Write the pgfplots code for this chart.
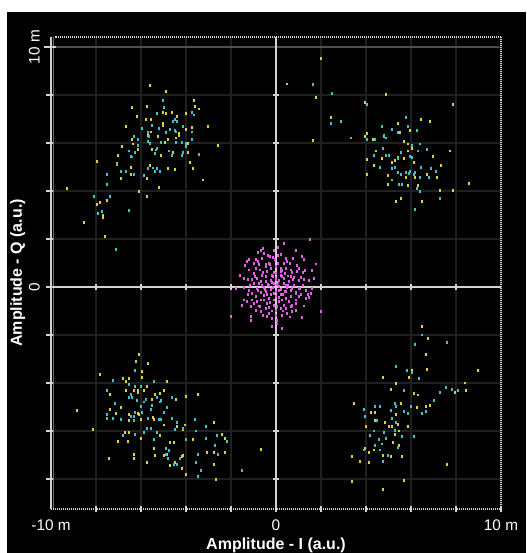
\documentclass[border=0pt]{standalone}
\usepackage{pgfplots}
\pgfplotsset{compat=1.18}
\usepackage{fontspec}
\setmainfont{Liberation Sans}
\definecolor{yel}{RGB}{215,210,60}
\definecolor{cyn}{RGB}{60,195,205}
\definecolor{mag}{RGB}{228,95,232}
\definecolor{gridc}{RGB}{32,32,32}
\definecolor{axc}{RGB}{210,210,210}
\pgfdeclareplotmark{bar}{\pgfpathrectangle{\pgfqpoint{-0.75pt}{-1.1pt}}{\pgfqpoint{1.5pt}{2.2pt}}\pgfusepathqfill}
\begin{document}
\begin{tikzpicture}
\useasboundingbox (0,0) rectangle (394.5pt,414.75pt);
\fill[white] (0,0) rectangle (394.5pt,414.75pt);
\fill[black] (5.25pt,0) rectangle (394.5pt,405.75pt);
\begin{axis}[
  at={(38.25pt,33pt)}, anchor=south west,
  scale only axis, width=337.5pt, height=354pt,
  xmin=-10, xmax=10, ymin=-9.25, ymax=10.42,
  clip=false,
  axis background/.style={fill=black},
  axis line style={draw=none},
  major tick length=0pt,
  xtick={-10,-8,...,10},
  ytick={-8,-6,...,10},
  xticklabels={-10 m,,,,,0,,,,,10 m},
  yticklabels={,,,,0,,,,,10 m},
  grid=major,
  major grid style={draw=gridc, line width=0.9pt},
  xticklabel style={anchor=north, inner sep=0pt, yshift=-8pt, text=white, font=\fontsize{11.5}{13}\selectfont},
  yticklabel style={xshift=-8.25pt, rotate=90, anchor=south, inner sep=0pt, text=white, font=\fontsize{11.5}{13}\selectfont},
  every axis x label/.style={at={(rel axis cs:0.5,0)}, anchor=north, yshift=-21.5pt, inner sep=0pt, text=white, font=\fontsize{12}{14}\selectfont\bfseries},
  every axis y label/.style={at={(rel axis cs:0,0.5)}, xshift=-30.75pt, rotate=90, anchor=north, inner sep=0pt, text=white, font=\fontsize{12}{14}\selectfont\bfseries},
  xlabel={Amplitude - I (a.u.)},
  ylabel={Amplitude - Q (a.u.)},
]
% magenta: centre cluster
\addplot[only marks, mark=bar, color=mag] coordinates {
(1.52,1.99) (0.36,1.82) (0.09,1.65) (-0.57,1.61) (-0.68,1.54) (-0.80,1.43) (-1.21,1.15) (-1.28,1.06)
(-0.91,1.13) (-0.61,1.19) (-0.27,1.26) (-0.13,1.24) (0.21,1.36) (0.43,1.19) (0.76,1.19) (0.88,1.51)
(1.15,1.26) (1.25,1.13) (1.77,0.96) (1.29,0.67) (1.03,0.78) (0.65,0.71) (0.46,0.78) (0.21,0.78)
(-0.01,0.85) (-0.28,0.92) (-0.46,0.85) (-0.76,0.92) (-0.91,0.78) (-0.98,0.57) (-1.06,0.32) (-1.24,0.32)
(-1.43,0.36) (-0.83,0.36) (-0.61,0.50) (-0.39,0.64) (-0.16,0.50) (0.01,0.36) (0.13,0.29) (0.28,0.43)
(0.55,0.46) (0.80,0.40) (1.03,0.29) (1.25,0.32) (1.47,0.29) (1.70,0.36) (-1.80,-0.06) (-1.43,-0.01)
(-1.21,-0.13) (-1.06,-0.26) (-0.83,-0.06) (-0.61,0.08) (-0.46,0.22) (-0.24,0.29) (-0.09,0.15) (0.13,0.04)
(0.36,0.15) (0.58,0.22) (0.80,0.08) (1.03,-0.06) (1.32,-0.13) (1.55,-0.26) (1.10,-0.33) (0.88,-0.24)
(0.65,-0.13) (0.40,-0.19) (0.21,-0.33) (-0.01,-0.19) (-0.24,-0.10) (-0.46,-0.19) (-0.68,-0.24) (-0.91,-0.40)
(-1.06,-0.54) (-1.28,-0.61) (-1.50,-0.75) (-1.13,-0.82) (-0.83,-0.61) (-0.54,-0.54) (-0.31,-0.47) (-0.09,-0.54)
(0.13,-0.61) (0.43,-0.47) (0.65,-0.40) (0.88,-0.54) (1.25,-0.79) (1.47,-0.43) (0.36,-0.75) (0.21,-0.89)
(-0.01,-0.96) (-0.31,-1.10) (-0.46,-0.89) (-0.68,-1.03) (-0.91,-0.96) (-0.39,-1.24) (-0.16,-1.31) (0.06,-1.38)
(0.28,-1.17) (0.51,-1.10) (0.73,-1.03) (0.88,-0.96) (1.15,-1.26) (1.99,-1.03) (-1.98,-1.24) (-1.13,-1.24)
(-1.13,-1.40) (-0.16,-1.65) (0.28,-1.72) (0.06,-1.54) (0.65,-0.82) (-0.39,-0.68) (-0.76,-0.79) (1.03,-0.40)
(0.58,-0.61) (-0.09,-0.75) (-0.98,0.15) (-0.46,0.43) (-0.71,0.71) (-0.24,0.78) (0.10,0.99) (0.61,0.99)
(0.36,0.99) (-0.01,0.57) (0.21,0.64) (0.43,0.08) (-0.13,-0.01) (-0.31,0.08) (-0.54,-0.01) (0.13,-0.13)
(0.73,-0.06) (0.51,-0.01) (-0.01,-0.40) (-0.24,-0.33) (0.28,-0.54) (-0.76,0.15) (-1.43,-0.54) (-0.68,-0.54)
(0.95,0.64) (1.18,0.08) (1.32,-0.47) (1.62,-0.06) (-0.52,1.38) (-0.37,1.33) (-0.07,1.54) (-0.79,1.06)
(-0.98,0.99) (-1.21,0.71) (0.05,0.10) (-0.20,0.20) (0.30,-0.30) (-0.10,-0.25) (0.20,0.50) (-0.40,-0.30)
(0.45,-0.90) (-0.60,0.60) (0.70,0.60) (-0.30,1.00) (0.00,-1.20) (0.90,-0.70) (-1.00,-0.70) (1.10,0.40)
(-1.40,0.90) (1.40,-0.30)
(0.10,0.20) (-0.15,0.45) (0.35,0.35) (-0.35,0.10) (0.55,0.05) (-0.55,-0.35) (0.15,-0.45) (-0.25,-0.65)
(0.45,-0.20) (0.25,0.70) (-0.65,0.25) (0.75,0.30) (-0.80,-0.15) (0.90,-0.25) (0.05,-0.80) (-0.45,0.95)
(0.50,1.05) (-0.95,0.45) (1.05,-0.05) (-0.20,-1.00) (0.30,-1.00) (-0.70,-0.80) (0.70,-0.75) (0.95,0.90)
(-1.15,0.05) (1.20,0.60) (-0.05,1.15) (0.60,-1.25) (-0.60,-1.20) (-1.25,-0.30) (0.00,0.30) (0.20,-0.10)
(-0.10,0.60) (0.40,0.55) (-0.50,-0.10) (0.65,0.45) (-0.30,-0.85) (0.10,1.30) (-1.60,0.50) (1.60,0.70)
};
% yellow: corner clusters
\addplot[only marks, mark=bar, color=yel] coordinates {
(-5.61,8.39) (-4.90,8.13) (-3.66,7.78) (-3.60,7.53) (-3.41,7.42) (-6.38,7.47) (-5.74,7.54) (-5.04,7.29)
(-4.90,7.24) (-4.64,7.29) (-3.99,7.24) (-6.19,7.11) (-5.80,6.99) (-5.55,6.99) (-4.38,7.11) (-5.03,6.82)
(-5.03,6.75) (-6.65,6.69) (-3.01,6.69) (-3.74,6.64) (-3.99,6.57) (-4.33,6.40) (-4.87,6.44) (-5.57,6.46)
(-5.67,6.33) (-4.45,6.21) (-6.38,6.14) (-6.37,5.96) (-6.13,5.74) (-5.52,5.74) (-4.82,6.13) (-4.58,5.61)
(-3.93,5.61) (-6.85,5.85) (-7.04,5.49) (-5.09,5.49) (-7.96,5.24) (-3.81,5.18) (-7.05,5.13) (-6.44,5.00)
(-5.61,5.06) (-4.78,4.94) (-4.51,4.88) (-3.68,4.93) (-6.89,4.51) (-6.44,4.69) (-5.74,4.51) (-3.23,4.46)
(-5.22,4.15) (-9.30,4.10) (-6.07,3.97) (-5.74,3.79) (-7.49,3.61) (-7.83,3.54) (-7.95,3.43) (-7.68,2.97)
(-7.68,2.89) (-8.53,2.69) (-7.62,2.10) (-2.56,5.90) (-3.91,5.99) (-4.32,6.33) (-4.93,6.03) (-5.25,6.26)
(1.98,9.53) (1.77,7.90) (4.88,8.03) (3.97,7.68) (7.87,7.60) (2.43,7.06) (6.44,6.99) (6.83,6.88)
(5.40,6.81) (5.52,6.44) (5.94,6.51) (4.05,6.39) (3.97,6.26) (4.30,6.15) (5.67,6.08) (1.65,6.10)
(4.69,6.69) (5.88,5.96) (6.06,5.78) (5.85,5.67) (4.43,5.67) (7.74,5.67) (6.96,5.43) (5.67,5.36)
(5.40,5.38) (4.69,5.36) (4.05,5.31) (5.15,5.18) (6.12,5.18) (4.36,5.06) (7.35,5.06) (4.05,4.69)
(4.96,4.64) (5.76,4.57) (6.18,4.57) (6.70,4.69) (7.16,4.57) (4.96,4.28) (5.86,4.22) (6.32,4.22)
(8.59,4.33) (7.29,4.04) (7.87,4.04) (5.33,3.56) (5.54,3.68) (6.50,3.56) (4.81,6.29) (5.27,5.29)
(0.49,8.46)
(-6.07,-2.81) (-6.21,-3.11) (-5.68,-3.17) (-7.83,-3.64) (-6.79,-3.83) (-6.65,-3.94) (-6.52,-3.83) (-4.84,-3.94)
(-5.94,-3.53) (-5.94,-3.76) (-6.13,-4.31) (-5.74,-4.13) (-6.65,-4.31) (-6.32,-4.31) (-6.13,-4.38) (-5.88,-4.31)
(-4.97,-4.31) (-5.16,-4.43) (-5.36,-4.49) (-5.49,-4.67) (-4.45,-4.67) (-3.99,-4.56) (-3.48,-4.49) (-7.37,-4.49)
(-6.90,-5.03) (-7.37,-5.10) (-7.10,-5.28) (-6.52,-5.33) (-6.13,-5.28) (-6.07,-5.33) (-6.52,-5.57) (-6.00,-5.51)
(-5.48,-5.44) (-5.42,-5.51) (-4.06,-5.75) (-4.14,-5.94) (-4.39,-5.82) (-2.77,-5.64) (-4.97,-5.75) (-8.13,-5.93)
(-6.71,-6.06) (-6.52,-6.06) (-7.04,-6.42) (-6.58,-6.42) (-6.00,-6.31) (-5.16,-6.18) (-4.70,-6.49) (-4.52,-6.49)
(-3.68,-6.36) (-2.38,-6.13) (-2.25,-6.31) (-5.42,-6.72) (-5.36,-7.03) (-6.32,-6.97) (-6.32,-7.15) (-7.43,-7.15)
(-5.74,-7.33) (-4.97,-7.03) (-4.84,-6.97) (-4.14,-7.03) (-4.20,-7.08) (-4.70,-7.44) (-4.51,-7.33) (-4.20,-7.57)
(-3.99,-7.81) (-3.05,-6.90) (-2.77,-6.90) (-2.25,-6.90) (-2.77,-7.39) (-0.68,-6.78) (-8.85,-5.15) (-2.65,-8.04)
(6.50,-1.65) (6.77,-2.14) (6.65,-2.81) (6.71,-3.42) (6.06,-3.46) (5.92,-3.76) (4.76,-3.78) (5.34,-4.01)
(5.09,-4.26) (6.12,-4.43) (6.31,-4.50) (6.83,-4.92) (6.65,-4.99) (6.25,-5.03) (5.54,-4.86) (5.34,-5.33)
(4.20,-5.22) (4.38,-5.22) (3.45,-4.86) (4.84,-5.63) (4.38,-5.58) (3.99,-5.82) (5.01,-5.82) (5.15,-5.83)
(5.40,-5.71) (5.88,-5.82) (5.48,-6.00) (4.78,-6.07) (5.31,-6.14) (5.22,-6.49) (5.48,-6.60) (3.94,-6.74)
(4.12,-6.90) (4.36,-6.79) (4.76,-7.03) (5.13,-7.08) (5.60,-7.08) (3.39,-7.08) (3.72,-7.28) (4.12,-7.33)
(7.62,-7.39) (8.97,-3.46) (8.39,-4.00) (8.45,-4.31) (7.95,-4.38) (5.67,-8.07) (3.39,-8.11) (4.76,-8.42)
};
% cyan: corner clusters
\addplot[only marks, mark=bar, color=cyn] coordinates {
(-5.03,7.78) (-4.96,7.49) (-5.28,7.25) (-3.72,7.29) (-3.66,7.17) (-4.51,7.00) (-4.38,6.88) (-4.57,6.88)
(-4.14,6.69) (-3.72,6.46) (-3.72,6.15) (-5.94,6.61) (-5.49,6.75) (-5.67,6.44) (-5.63,6.28) (-5.18,6.61)
(-4.70,6.57) (-4.90,6.44) (-4.51,6.51) (-4.45,6.46) (-6.31,6.28) (-6.13,6.14) (-6.13,5.90) (-5.67,6.08)
(-5.58,5.97) (-5.30,5.78) (-5.34,5.71) (-5.36,5.56) (-5.09,6.01) (-4.76,5.67) (-4.43,6.03) (-4.20,6.03)
(-4.02,5.97) (-3.99,5.86) (-4.15,5.61) (-4.18,5.49) (-4.64,5.49) (-3.41,5.54) (-6.52,5.67) (-6.26,5.61)
(-6.40,5.42) (-6.90,4.82) (-6.68,4.82) (-6.32,4.69) (-6.44,5.43) (-5.67,4.94) (-5.46,4.96) (-5.37,4.83)
(-5.27,4.94) (-5.15,4.82) (-5.85,4.64) (-7.53,4.69) (-7.49,4.26) (-8.08,3.79) (-7.37,3.79) (-7.92,3.07)
(-7.74,3.13) (-6.52,3.18) (-7.10,1.56) (-7.07,5.11)
(1.65,8.44) (2.49,8.08) (4.03,7.60) (2.87,6.88) (2.43,6.81) (3.33,6.21) (4.06,6.15) (4.42,6.15)
(4.78,6.33) (4.88,6.21) (4.70,6.69) (5.15,6.57) (5.40,6.44) (5.79,7.06) (5.86,6.69) (6.25,6.51)
(6.06,5.90) (6.38,5.96) (4.76,5.79) (4.36,5.49) (4.88,5.49) (5.01,5.49) (5.54,5.60) (5.40,5.36)
(5.94,5.43) (6.06,5.40) (6.31,5.67) (6.70,5.72) (5.16,4.94) (5.28,5.00) (6.44,5.00) (6.89,4.94)
(7.10,4.82) (4.63,5.00) (5.40,4.76) (5.54,4.69) (5.76,4.76) (5.94,4.82) (6.12,4.69) (6.18,4.76)
(6.38,4.58) (6.82,4.57) (5.15,4.46) (5.46,4.28) (5.61,4.28) (6.25,4.10) (6.38,3.97) (7.29,3.68)
(6.18,3.25) (5.92,4.74)
(-6.26,-3.46) (-7.23,-3.89) (-5.42,-3.94) (-6.52,-4.07) (-6.26,-4.13) (-6.00,-4.13) (-7.49,-4.31) (-5.30,-4.61)
(-5.09,-4.72) (-5.16,-4.79) (-4.64,-4.61) (-6.46,-4.49) (-6.40,-4.61) (-6.52,-4.61) (-6.19,-4.72) (-5.80,-4.67)
(-5.88,-4.79) (-7.17,-4.85) (-5.49,-4.92) (-4.84,-5.03) (-6.00,-4.97) (-5.55,-5.10) (-6.26,-5.21) (-5.94,-5.21)
(-4.97,-5.21) (-7.49,-5.33) (-7.49,-5.46) (-7.23,-5.46) (-6.90,-5.51) (-6.46,-5.39) (-6.32,-5.57) (-5.67,-5.46)
(-5.22,-5.51) (-5.10,-5.51) (-4.64,-5.46) (-4.39,-5.64) (-3.60,-5.51) (-4.12,-5.88) (-4.51,-5.94) (-5.74,-5.88)
(-5.55,-5.88) (-5.30,-6.06) (-5.88,-6.06) (-6.26,-6.13) (-6.79,-6.18) (-5.42,-6.36) (-3.99,-6.36) (-3.54,-6.00)
(-3.10,-5.82) (-3.10,-6.31) (-2.63,-6.18) (-2.19,-6.42) (-2.69,-6.60) (-2.57,-6.97) (-3.48,-6.97) (-4.90,-6.72)
(-4.76,-6.83) (-4.90,-6.97) (-4.78,-7.15) (-4.52,-7.38) (-4.39,-7.39) (-4.26,-7.15) (-3.54,-7.33) (-3.35,-7.63)
(-3.48,-7.88) (-1.53,-7.63) (-6.32,-5.39)
(6.50,-2.00) (6.19,-2.38) (7.60,-2.32) (5.34,-3.33) (5.80,-3.46) (6.06,-3.57) (6.34,-3.82) (5.67,-4.31)
(7.29,-4.38) (7.54,-4.19) (7.81,-4.26) (8.07,-4.31) (7.02,-4.74) (6.65,-5.17) (6.50,-5.28) (5.98,-4.97)
(5.86,-5.28) (5.67,-5.17) (5.34,-4.99) (5.09,-5.15) (4.63,-4.97) (4.38,-4.97) (3.93,-5.10) (3.97,-5.40)
(4.49,-5.58) (5.15,-5.46) (5.27,-4.85) (5.34,-5.64) (4.36,-6.00) (4.81,-6.06) (5.30,-5.96) (5.61,-6.24)
(6.12,-6.24) (4.18,-6.18) (4.57,-6.36) (4.69,-6.54) (4.90,-6.32) (4.40,-6.61) (3.93,-6.79) (4.60,-6.79)
(5.42,-6.67) (4.96,-7.03) (4.76,-7.28)
};
% bright 10 m grid line
\draw[draw={rgb,255:red,80;green,80;blue,80}, line width=1.2pt] (axis cs:-10,10) -- (axis cs:9.9,10);
% frame
\draw[axc, line width=1.1pt] (axis cs:-10,-9.25) -- (axis cs:-10,10.42);
\draw[draw={rgb,255:red,110;green,110;blue,110}, line width=0.6pt] ([xshift=1.8pt]axis cs:-10,-9.25) -- ([xshift=1.8pt]axis cs:-10,10.42);
\draw[axc, line width=1.1pt, dash pattern=on 0.75pt off 0.75pt] (axis cs:-9.8,10.42) -- (axis cs:10,10.42) -- (axis cs:10,-9.25);
\draw[axc, line width=1.1pt, dash pattern=on 0.75pt off 0.75pt] (axis cs:-10,-9.25) -- (axis cs:10,-9.25);
\pgfplotsinvokeforeach{-8,-6,-4,-2,0,2,4,6,8}{
  \draw[axc, line width=1.1pt] ([xshift=-3.5pt]axis cs:-10,#1) -- ([xshift=1.5pt]axis cs:-10,#1);
}
\draw[axc, line width=1.1pt] ([xshift=-5.5pt]axis cs:-10,10) -- ([xshift=3.5pt]axis cs:-10,10);
\pgfplotsinvokeforeach{-8,-6,-4,-2,0,2,4,6,8,10}{
  \draw[axc, line width=1.1pt] ([yshift=-2.2pt]axis cs:#1,-9.25) -- ([yshift=2.2pt]axis cs:#1,-9.25);
}
% centre axes
\draw[axc, line width=1.4pt] (axis cs:-10,0) -- (axis cs:10,0);
\draw[axc, line width=1.4pt] (axis cs:0,-9.25) -- (axis cs:0,10.42);
\pgfplotsinvokeforeach{-8,-6,-4,-2,2,4,6,8}{
  \draw[axc, line width=1.1pt] ([yshift=-2.5pt]axis cs:#1,0) -- ([yshift=2.5pt]axis cs:#1,0);
  \draw[axc, line width=1.1pt] ([xshift=-2.5pt]axis cs:0,#1) -- ([xshift=2.5pt]axis cs:0,#1);
}
\end{axis}
\end{tikzpicture}
\end{document}
